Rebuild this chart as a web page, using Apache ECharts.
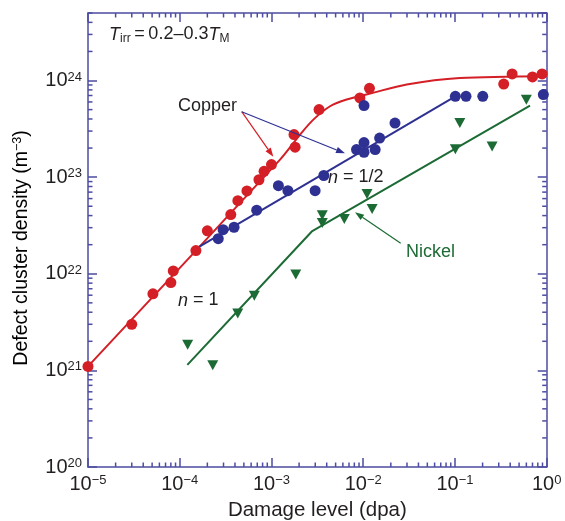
<!DOCTYPE html>
<html><head><meta charset="utf-8">
<script src="https://cdn.jsdelivr.net/npm/echarts@6/dist/echarts.min.js"></script>
<style>html,body{margin:0;padding:0;background:#fff}#c{width:565px;height:521px}</style>
</head><body><div id="c"></div>
<script>
// ---- Data ----
const copperAX = [1.0e-5, 3.0e-5, 5.1e-5, 8.0e-5, 8.5e-5, 1.5e-4, 2.0e-4, 3.6e-4, 4.3e-4, 5.4e-4, 7.3e-4, 8.3e-4, 1.0e-3, 1.76e-3, 1.81e-3, 3.3e-3, 9.2e-3, 1.17e-2, 0.34, 0.42, 0.70, 0.89];
const copperAY = [1.1e21, 3.0e21, 6.2e21, 8.1e21, 1.07e22, 1.74e22, 2.78e22, 4.1e22, 5.7e22, 7.2e22, 9.4e22, 1.15e23, 1.35e23, 2.76e23, 2.04e23, 5.0e23, 6.6e23, 8.3e23, 9.2e23, 1.17e24, 1.09e24, 1.17e24];
const copperAFitX = [1e-5, 1.24e-3, 2.05e-3, 2.86e-3, 4.35e-3, 6.6e-3, 1.19e-2, 2.98e-2, 0.113, 1.0];
const copperAFitY = [1.1e21, 1.52e23, 2.76e23, 3.94e23, 5.42e23, 6.36e23, 7.33e23, 9.1e23, 1.06e24, 1.11e24];

const copperBX = [2.63e-4, 2.97e-4, 3.91e-4, 6.9e-4, 1.19e-3, 1.51e-3, 2.99e-3, 3.72e-3, 8.45e-3, 1.02e-2, 1.02e-2, 1.35e-2, 1.51e-2, 2.22e-2, 1.02e-2, 0.101, 0.132, 0.201, 0.919];
const copperBY = [2.31e22, 2.86e22, 3.03e22, 4.55e22, 8.16e22, 7.24e22, 7.24e22, 1.04e23, 1.93e23, 2.28e23, 1.81e23, 1.93e23, 2.54e23, 3.63e23, 5.51e23, 6.86e23, 6.86e23, 6.86e23, 7.16e23];
const copperBFitX = [1.62e-4, 0.101];
const copperBFitY = [1.9e22, 6.86e23];

const nickelX = [1.22e-4, 2.29e-4, 4.29e-4, 6.5e-4, 1.84e-3, 3.58e-3, 3.58e-3, 6.22e-3, 1.1e-2, 1.25e-2, 0.101, 0.113, 0.254, 0.60];
const nickelY = [1.84e21, 1.13e21, 3.87e21, 5.92e21, 9.84e21, 4.04e22, 3.35e22, 3.69e22, 6.7e22, 4.68e22, 1.95e23, 3.63e23, 2.07e23, 6.31e23];
const nickelFitX = [1.21e-4, 2.75e-3, 0.658];
const nickelFitY = [1.14e21, 2.74e22, 5.51e23];

const xMin = 1e-5, xMax = 1;
const yMin = 1e20, yMax = 5e24;
const minorMultipliers = [2, 3, 4, 5, 6, 7, 8, 9];

// ---- Styles ----
const FONT = '"Liberation Sans", Arial, Helvetica, sans-serif';
const AX = '#4c4ca2';
const RED = '#d41f26', BLUE = '#2e3192', GREEN = '#1c6b35', TXT = '#231f20';

function pairs(xs, ys) { return xs.map((x, i) => [x, ys[i]]); }
function supLabel(v) {
  const l = Math.log10(v), e = Math.round(l);
  if (Math.abs(l - e) > 1e-6) return '';
  return '{b|10}{s|' + (e < 0 ? '\u2212' + (-e) : e) + '}';
}
const labelRich = {
  b: { fontSize: 20, fontFamily: FONT, color: TXT },
  s: { fontSize: 13, fontFamily: FONT, color: TXT, padding: [0, 0, 7, 0] }
};
function axisCommon(extra) {
  return Object.assign({
    type: 'log', logBase: 10,
    axisLine: { show: true, lineStyle: { color: AX, width: 1.5 } },
    axisTick: { show: true, inside: true, length: 9, lineStyle: { color: AX, width: 1.5 } },
    splitLine: { show: false },
    minorTick: { show: false },
    minorSplitLine: { show: false }
  }, extra);
}

const chart = echarts.init(document.getElementById('c'), null, { renderer: 'canvas' });
chart.setOption({
  animation: false,
  backgroundColor: '#fff',
  grid: { left: 88, right: 18.3, top: 13, bottom: 54, containLabel: false, outerBoundsMode: 'none' },
  xAxis: [
    axisCommon({ min: xMin, max: xMax, position: 'bottom',
      axisLabel: { formatter: supLabel, rich: labelRich, margin: 7, showMinLabel: true, showMaxLabel: true },
      name: 'Damage level (dpa)', nameLocation: 'middle', nameGap: 33, nameMoveOverlap: false,
      nameTextStyle: { fontSize: 20.5, fontFamily: FONT, color: TXT } }),
    axisCommon({ min: xMin, max: xMax, position: 'top', axisLabel: { show: false } })
  ],
  yAxis: [
    axisCommon({ min: yMin, max: yMax, position: 'left',
      axisLabel: { formatter: supLabel, rich: labelRich, margin: 6, showMinLabel: true, showMaxLabel: false } }),
    axisCommon({ min: yMin, max: yMax, position: 'right', axisLabel: { show: false } })
  ],
  series: [
    { type: 'line', data: pairs(copperAFitX, copperAFitY), showSymbol: false, smooth: 0.3,
      lineStyle: { color: RED, width: 2 }, itemStyle: { color: RED }, z: 3 },
    { type: 'scatter', data: pairs(copperAX, copperAY), symbol: 'circle', symbolSize: 11, clip: false,
      itemStyle: { color: RED, opacity: 1 }, z: 4 },
    { type: 'line', data: pairs(copperBFitX, copperBFitY), showSymbol: false,
      lineStyle: { color: BLUE, width: 2 }, itemStyle: { color: BLUE }, z: 3 },
    { type: 'scatter', data: pairs(copperBX, copperBY), symbol: 'circle', symbolSize: 11, clip: false,
      itemStyle: { color: BLUE, opacity: 1 }, z: 4 },
    { type: 'line', data: pairs(nickelFitX, nickelFitY), showSymbol: false,
      lineStyle: { color: GREEN, width: 2 }, itemStyle: { color: GREEN }, z: 3 },
    { type: 'scatter', data: pairs(nickelX, nickelY), symbol: 'triangle', symbolRotate: 180, symbolSize: [11, 10], clip: false,
      itemStyle: { color: GREEN, opacity: 1 }, z: 4 }
  ]
});

// ---- Minor ticks (through the axes' own scales) and annotations ----
const px = v => chart.convertToPixel({ xAxisIndex: 0 }, v);
const py = v => chart.convertToPixel({ yAxisIndex: 0 }, v);
const L = px(xMin), R = px(xMax), B = py(yMin), T = py(yMax);
const g = [];
const tickStyle = { stroke: AX, lineWidth: 1.5 };
const MINOR = 4.5;
for (let d = -5; d < 0; d++) {
  minorMultipliers.forEach(m => {
    const x = px(m * Math.pow(10, d));
    g.push({ type: 'line', silent: true, shape: { x1: x, y1: B, x2: x, y2: B - MINOR }, style: tickStyle });
    g.push({ type: 'line', silent: true, shape: { x1: x, y1: T, x2: x, y2: T + MINOR }, style: tickStyle });
  });
}
for (let d = 20; d <= 24; d++) {
  minorMultipliers.forEach(m => {
    const v = m * Math.pow(10, d);
    if (v >= yMax) return;
    const y = py(v);
    g.push({ type: 'line', silent: true, shape: { x1: L, y1: y, x2: L + MINOR, y2: y }, style: tickStyle });
    g.push({ type: 'line', silent: true, shape: { x1: R, y1: y, x2: R - MINOR, y2: y }, style: tickStyle });
  });
}
function arrow(x1, y1, x2, y2, color) {
  const a = Math.atan2(y2 - y1, x2 - x1), len = 9, w = 3.2;
  const bx = x2 - len * Math.cos(a), by = y2 - len * Math.sin(a);
  const nx = -Math.sin(a) * w, ny = Math.cos(a) * w;
  g.push({ type: 'line', silent: true, shape: { x1, y1, x2: bx, y2: by }, style: { stroke: color, lineWidth: 1.2 }, z: 10 });
  g.push({ type: 'polygon', silent: true, shape: { points: [[x2, y2], [bx + nx, by + ny], [bx - nx, by - ny]] }, style: { fill: color }, z: 10 });
}
function label(text, x, y, color, rich) {
  g.push({ type: 'text', silent: true, z: 10, style: {
    text, x, y, fill: color, fontSize: 18, fontFamily: FONT, align: 'left', verticalAlign: 'middle', rich: rich || {}
  } });
}
const annRich = {
  i: { fontSize: 18, fontFamily: FONT, fontStyle: 'italic', color: TXT },
  r: { fontSize: 18, fontFamily: FONT, color: TXT },
  sub: { fontSize: 12, fontFamily: FONT, color: TXT, padding: [9, 0, 0, 0] }
};
label('{i|T}{sub|irr}{r|\u2009=\u20090.2\u20130.3}{i|T}{sub|M}', 109, 34.5, TXT, annRich);
label('Copper', 178, 106, TXT);
label('{i|n}{r| = 1/2}', 328, 177.5, TXT, annRich);
label('{i|n}{r| = 1}', 178, 300.5, TXT, annRich);
label('Nickel', 406, 252.5, GREEN);
arrow(241.7, 111.7, 273.3, 156.7, RED);
arrow(241.7, 111.7, 345, 153.3, BLUE);
arrow(400.7, 243.3, 355, 212.3, GREEN);
// y-axis title
g.push({ type: 'text', silent: true, rotation: Math.PI / 2, x: 22, y: 248, style: {
  text: '{a|Defect cluster density (m}{s|\u22123}{a|)}', x: 0, y: 0, align: 'center', verticalAlign: 'middle',
  rich: { a: { fontSize: 19.5, fontFamily: FONT, color: TXT }, s: { fontSize: 12.5, fontFamily: FONT, color: TXT, padding: [0, 0, 8, 0] } }
} });
chart.setOption({ graphic: { elements: g } });
</script>
</body></html>
